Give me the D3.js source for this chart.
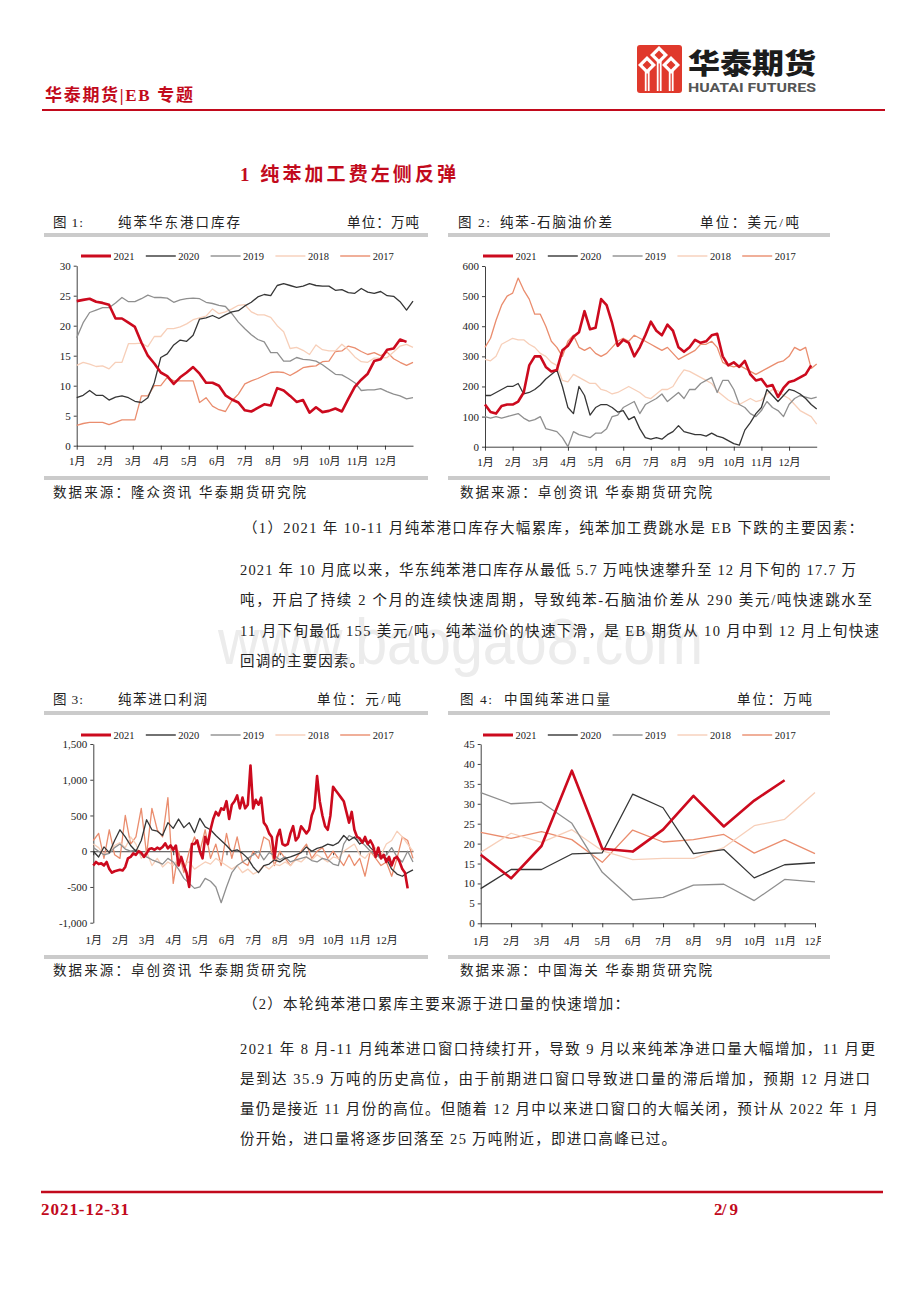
<!DOCTYPE html>
<html>
<head>
<meta charset="utf-8">
<script src="https://cdnjs.cloudflare.com/ajax/libs/d3/7.8.5/d3.min.js"></script>
<style>
  html, body { margin: 0; padding: 0; background: #fff; }
  svg { display: block; }
</style>
</head>
<body>
<svg id="page" width="920" height="1302"></svg>
<script>
// ---------------------------------------------------------------------------
// Data
// ---------------------------------------------------------------------------
const months = ['1月', '2月', '3月', '4月', '5月', '6月', '7月', '8月', '9月', '10月', '11月', '12月']
const years = ['2021', '2020', '2019', '2018', '2017']

// fig 1: East China benzene port stock, 10k t, weekly
const stock2021 = [24.1, 24.3, 24.5, 24.0, 23.8, 23.5, 21.2, 21.2, 20.5, 19.8, 17.2, 15.0, 13.7, 12.2, 11.6, 10.3, 11.4, 12.2, 13.1, 12.0, 10.5, 10.5, 10.0, 8.4, 7.7, 7.2, 5.9, 5.7, 6.3, 6.9, 6.7, 9.6, 9.2, 8.3, 7.3, 7.6, 5.5, 6.4, 5.6, 5.8, 6.2, 5.7, 7.8, 9.8, 11.0, 12.0, 14.1, 14.4, 16.0, 16.2, 17.7, 17.3]
const stock2020 = [8.0, 8.4, 9.2, 8.4, 8.4, 7.6, 8.1, 8.3, 8.0, 7.4, 7.2, 8.0, 10.5, 14.7, 15.3, 16.8, 17.6, 17.4, 18.4, 21.1, 21.3, 21.7, 21.2, 21.8, 22.3, 22.5, 23.3, 23.9, 24.8, 25.2, 25.0, 26.7, 27.0, 26.7, 26.4, 26.6, 27.0, 26.7, 26.6, 26.6, 25.9, 26.0, 25.5, 25.4, 26.2, 25.6, 25.4, 25.7, 25.0, 24.9, 24.0, 22.6, 24.1]
const stock2019 = [18.0, 20.5, 22.2, 22.6, 23.0, 23.0, 23.8, 24.7, 24.0, 24.0, 24.5, 25.1, 24.7, 24.7, 24.6, 23.9, 24.3, 24.5, 24.6, 24.5, 23.9, 23.7, 23.4, 23.2, 22.0, 20.6, 19.5, 18.5, 17.7, 17.3, 15.5, 15.5, 14.1, 14.1, 14.7, 14.4, 14.3, 14.1, 13.5, 12.7, 11.9, 11.8, 11.2, 10.5, 9.2, 9.3, 9.3, 9.5, 9.0, 8.6, 8.3, 7.8, 8.0]
const stock2018 = [13.4, 13.9, 13.6, 13.2, 13.3, 12.8, 13.9, 13.9, 17.0, 17.0, 17.1, 16.5, 18.2, 18.2, 19.5, 19.5, 19.8, 20.3, 21.0, 21.3, 21.6, 22.8, 22.0, 22.3, 22.8, 23.4, 23.5, 22.3, 21.8, 21.8, 21.4, 20.0, 19.0, 16.2, 16.4, 15.9, 15.2, 16.8, 16.0, 15.8, 15.8, 16.9, 16.0, 14.8, 14.0, 13.9, 14.6, 14.6, 14.7, 15.6, 16.6, 16.9, 16.4]
const stock2017 = [3.4, 3.7, 3.9, 3.9, 3.9, 3.5, 3.9, 4.3, 4.3, 4.3, 8.3, 8.3, 10.0, 10.0, 11.4, 10.8, 10.8, 10.8, 10.8, 7.2, 8.0, 6.6, 6.0, 5.7, 7.5, 8.6, 10.3, 10.8, 11.2, 11.7, 12.2, 12.3, 12.2, 11.7, 12.3, 13.0, 13.2, 13.3, 14.0, 14.1, 15.7, 15.8, 16.6, 16.3, 15.7, 15.2, 15.5, 15.0, 15.6, 14.5, 13.9, 13.4, 13.9]

// fig 2: benzene - naphtha spread, USD/t, sampled every 0.2 month
const spread2021 = [140, 115, 110, 135, 140, 140, 150, 180, 270, 300, 300, 265, 250, 255, 320, 335, 365, 380, 450, 390, 395, 490, 470, 410, 335, 355, 345, 300, 330, 370, 415, 385, 370, 405, 385, 330, 315, 330, 355, 345, 350, 370, 375, 300, 270, 280, 265, 285, 240, 220, 225, 200, 205, 165, 195, 215, 220, 230, 240, 270]
const spread2020 = [170, 170, 180, 190, 200, 200, 210, 175, 180, 190, 205, 225, 240, 255, 200, 130, 110, 200, 170, 105, 130, 140, 140, 130, 115, 120, 90, 100, 60, 30, 25, 30, 25, 40, 50, 70, 50, 45, 40, 40, 35, 45, 35, 30, 20, 10, 5, 55, 80, 110, 130, 190, 170, 150, 170, 190, 185, 175, 160, 140, 125]
const spread2019 = [100, 95, 100, 95, 100, 105, 110, 95, 85, 90, 100, 60, 55, 50, 30, 0, 50, 40, 35, 30, 45, 45, 60, 100, 105, 130, 140, 150, 110, 140, 150, 160, 175, 150, 165, 180, 160, 190, 190, 210, 220, 230, 180, 220, 220, 190, 140, 130, 110, 100, 120, 150, 130, 120, 100, 140, 160, 170, 165, 160, 165]
const spread2018 = [290, 285, 300, 340, 350, 360, 355, 355, 340, 330, 310, 300, 280, 270, 220, 215, 240, 230, 220, 210, 210, 190, 185, 175, 180, 190, 200, 190, 180, 165, 160, 175, 190, 190, 200, 230, 255, 250, 240, 230, 220, 210, 185, 170, 155, 145, 140, 150, 160, 150, 155, 175, 190, 185, 170, 160, 140, 120, 110, 100, 75]
const spread2017 = [330, 360, 420, 470, 500, 510, 560, 520, 490, 440, 440, 400, 350, 330, 300, 350, 370, 330, 320, 330, 310, 300, 310, 330, 350, 360, 350, 370, 360, 350, 340, 330, 320, 330, 310, 290, 300, 310, 320, 340, 340, 350, 330, 280, 270, 265, 270, 260, 250, 240, 250, 260, 270, 280, 285, 300, 330, 320, 330, 260, 275]

// fig 3: benzene import margin, CNY/t (2021 every 0.1 month, others every 0.2 month)
const profit2021 = [-200, -150, -180, -170, -200, -150, -250, -300, -280, -270, -260, -270, -220, -100, -80, -30, -50, 0, -20, -80, -30, 30, 40, 20, 50, 30, 60, 110, 40, 80, 20, 80, -200, -80, -200, -300, -500, 100, 100, 150, 0, -100, 200, 100, 300, 450, 550, 500, 600, 580, 700, 450, 650, 700, 780, 600, 750, 600, 650, 1200, 600, 720, 650, 750, 400, 350, 250, 200, -100, 200, 300, 100, 80, 100, 250, 350, 150, 200, 350, 300, 250, 300, 500, 600, 1050, 700, 500, 350, 300, 500, 900, 850, 800, 750, 700, 550, 400, 550, 300, 200, 180, 120, 200, 100, 150, 80, -80, 50, -100, -50, -150, -80, -200, -100, -80, -150, -250, -300, -520]
const profit2020 = [0, -80, 60, -20, 150, 300, 200, 80, 0, 150, 440, 300, 280, 220, 400, 320, 450, 330, 400, 260, 460, 340, 300, 220, 150, 80, 0, 20, -30, -100, -220, -300, -200, -180, -120, -150, -100, -80, -50, -20, 60, 0, 40, 60, 100, 80, 120, 220, 150, 200, 100, 150, 50, -20, -80, -100, -250, -320, -350, -300, -260]
const profit2019 = [50, 0, -50, -30, 50, 100, 30, 0, 20, -50, -80, -120, -150, -180, -100, -150, -250, -380, -450, -520, -500, -380, -420, -500, -720, -500, -300, -200, -150, -100, -50, 0, -120, -20, -60, -120, -80, -150, -120, -100, -80, -130, -150, -100, -120, -180, -200, 100, 220, 180, 150, 80, 0, -50, -100, -50, 50, -80, -150, 0, -150]
const profit2018 = [100, 50, -50, 0, 80, 120, 50, 200, 100, -100, 0, -200, -100, -220, -150, -200, -100, -180, -150, -250, -200, -150, -180, -100, -150, -200, -250, -200, -300, -250, -320, -280, -200, -250, -180, -200, -150, -200, -120, -150, -80, -120, -50, -100, -150, -80, -100, 0, 50, 100, -50, -100, 0, 50, -50, 100, 150, 280, 200, 100, 0]
const profit2017 = [150, 250, -100, 300, -50, -100, 500, 100, 200, 600, -50, 600, 300, 200, 750, -450, 0, -300, 0, 200, 0, 300, -100, 100, -200, 250, -100, 200, -150, -200, 0, -100, 200, 150, -200, 0, -100, -200, -100, 0, 100, -100, 0, 50, -100, 0, -100, -200, -50, -200, -100, -350, 0, -100, -200, -150, -350, -100, 200, 150, -100]

// fig 4: China benzene imports, 10k t, monthly
const import2021 = [17.2, 11.3, 19.4, 38.3, 18.7, 18.0, 23.5, 32.0, 24.3, 30.8, 35.9]
const import2020 = [8.7, 13.5, 13.5, 17.4, 17.7, 32.4, 29.0, 17.5, 18.5, 11.4, 14.7, 15.2]
const import2019 = [32.8, 30.0, 30.4, 25.1, 12.8, 5.9, 6.5, 9.6, 9.8, 5.7, 11.0, 10.4]
const import2018 = [17.8, 22.6, 20.3, 23.5, 18.2, 16.0, 16.3, 16.3, 19.0, 24.5, 26.1, 32.8]
const import2017 = [22.8, 21.3, 23.0, 21.0, 15.3, 23.4, 20.4, 21.0, 22.3, 17.6, 21.0, 17.5]

// ---------------------------------------------------------------------------
// Setup
// ---------------------------------------------------------------------------
const svg = d3.select('#page')
const SERIF = '"Liberation Serif", "Noto Sans CJK SC", serif'
const RED = '#c20a1c'
const yearStyle = {
  2021: { color: '#cc0a1e', width: 2.6 },
  2020: { color: '#363636', width: 1.3 },
  2019: { color: '#8f8f8f', width: 1.3 },
  2018: { color: '#f7cfb9', width: 1.3 },
  2017: { color: '#ea8d6e', width: 1.3 }
}

function label(g, s, x, y, o = {}) {
  let t = g.append('text')
    .attr('x', x)
    .attr('y', y)
    .attr('dominant-baseline', 'central')
    .attr('font-family', o.family || SERIF)
    .attr('font-size', o.size || 13.5)
    .attr('fill', o.fill || '#222')
    .text(s)
  if (o.weight) t.attr('font-weight', o.weight)
  if (o.len) t.attr('textLength', o.len).attr('lengthAdjust', 'spacing')
  return t
}

svg.append('rect').attr('width', 920).attr('height', 1302).attr('fill', '#fff')

////////////////////////////////////////////////////////////////////////////////
// Header
////////////////////////////////////////////////////////////////////////////////
label(svg, '华泰期货|EB 专题', 45, 95, { size: 17, fill: RED, weight: 'bold', len: 148 })
svg.append('line')
  .attr('x1', 42).attr('x2', 885).attr('y1', 110).attr('y2', 110)
  .attr('stroke', RED).attr('stroke-width', 2.2)

// logo
let logo = svg.append('g')
logo.append('rect')
  .attr('x', 637).attr('y', 45).attr('width', 45).attr('height', 48).attr('rx', 3)
  .attr('fill', '#e0392c')
let diamonds = [[659, 55], [647, 65], [671, 65]]
diamonds.forEach(([cx, cy]) => {
  logo.append('rect')
    .attr('x', cx - 2.2).attr('y', cy + 5).attr('width', 1.8).attr('height', 91 - cy - 5)
    .attr('fill', '#fff')
  logo.append('rect')
    .attr('x', cx + 0.8).attr('y', cy + 5).attr('width', 1.8).attr('height', 91 - cy - 5)
    .attr('fill', '#fff')
  logo.append('path')
    .attr('d', `M${cx},${cy - 9}L${cx + 9},${cy}L${cx},${cy + 9}L${cx - 9},${cy}Z`)
    .attr('fill', '#fff')
  logo.append('path')
    .attr('d', `M${cx},${cy - 4.5}L${cx + 4.5},${cy}L${cx},${cy + 4.5}L${cx - 4.5},${cy}Z`)
    .attr('fill', '#e0392c')
})
logo.append('text')
  .attr('x', 688).attr('y', 74)
  .attr('font-family', '"Noto Sans CJK SC", sans-serif').attr('font-weight', 900)
  .attr('font-size', 28).attr('fill', '#1c1c1c')
  .attr('textLength', 128).attr('lengthAdjust', 'spacingAndGlyphs')
  .text('华泰期货')
logo.append('text')
  .attr('x', 688).attr('y', 92)
  .attr('font-family', '"Liberation Sans Narrow", "Roboto", sans-serif').attr('font-weight', 'bold')
  .attr('font-size', 12.5).attr('fill', '#555')
  .attr('textLength', 128).attr('lengthAdjust', 'spacingAndGlyphs')
  .text('HUATAI FUTURES')

label(svg, '1  纯苯加工费左侧反弹', 240, 174, { size: 19, fill: RED, weight: 'bold', len: 216 })

////////////////////////////////////////////////////////////////////////////////
// Chart frames and captions
////////////////////////////////////////////////////////////////////////////////
function frame(x0, x1, yTop, yBot) {
  svg.append('rect').attr('x', x0).attr('y', yTop).attr('width', x1 - x0).attr('height', 4).attr('fill', '#cbcbcb')
  svg.append('rect').attr('x', x0).attr('y', yBot).attr('width', x1 - x0).attr('height', 4).attr('fill', '#cbcbcb')
}
frame(44, 428, 233, 476)
frame(448, 830, 233, 476)
frame(44, 428, 711, 955)
frame(448, 830, 711, 955)

label(svg, '图 1:', 53, 222, { len: 30 })
label(svg, '纯苯华东港口库存', 118, 222, { len: 122 })
label(svg, '单位：万吨', 347, 222, { len: 72 })
label(svg, '图 2:', 458, 222, { len: 32 })
label(svg, '纯苯-石脑油价差', 500, 222, { len: 112 })
label(svg, '单位：美元/吨', 700, 222, { len: 99 })
label(svg, '数据来源：隆众资讯 华泰期货研究院', 53, 492, { len: 253 })
label(svg, '数据来源：卓创资讯 华泰期货研究院', 460, 492, { len: 252 })

label(svg, '图 3:', 53, 699, { len: 30 })
label(svg, '纯苯进口利润', 118, 699, { len: 89 })
label(svg, '单位：元/吨', 317, 699, { len: 84 })
label(svg, '图 4:', 460, 699, { len: 32 })
label(svg, '中国纯苯进口量', 504, 699, { len: 106 })
label(svg, '单位：万吨', 737, 699, { len: 75 })
label(svg, '数据来源：卓创资讯 华泰期货研究院', 53, 970, { len: 253 })
label(svg, '数据来源：中国海关 华泰期货研究院', 460, 970, { len: 252 })

////////////////////////////////////////////////////////////////////////////////
// Line chart
////////////////////////////////////////////////////////////////////////////////
function lineChart(o) {
  let g = svg.append('g')
  if (o.clip) {
    svg.append('clipPath').attr('id', o.clip.id)
      .append('rect').attr('x', o.clip.x0).attr('y', o.top - 40)
      .attr('width', o.clip.x1 - o.clip.x0).attr('height', o.labelY - o.top + 60)
    g.attr('clip-path', `url(#${o.clip.id})`)
  }
  let x = d3.scaleLinear().domain(o.xDomain).range([o.left, o.right])
  let y = d3.scaleLinear().domain(o.yDomain).range([o.bottom, o.top])

  let yAxis = g.append('g')
    .attr('transform', `translate(${o.left},0)`)
    .call(d3.axisLeft(y).tickValues(o.yTicks).tickSize(3).tickSizeOuter(0).tickPadding(3).tickFormat(o.yFormat))
  yAxis.attr('font-family', SERIF).attr('font-size', 11)
  yAxis.selectAll('text').attr('fill', '#222')

  let axisY = y(o.xAxisAt)
  let xAxis = g.append('g')
    .attr('transform', `translate(0,${axisY})`)
    .call(d3.axisBottom(x).tickValues(o.xTicks).tickSize(4).tickSizeOuter(0).tickFormat((d, i) => months[i]))
  xAxis.attr('font-family', SERIF).attr('font-size', 11)
  xAxis.selectAll('text').attr('fill', '#222').attr('y', o.labelY - axisY).attr('dy', '0.35em')
  g.selectAll('.domain, .tick line').attr('stroke', '#111').attr('stroke-width', 0.8)

  // draw oldest first so 2021 sits on top
  o.series.slice().reverse().forEach(s => {
    let st = yearStyle[s.year]
    let line = d3.line()
      .x((d, i) => x(i * s.step))
      .y(d => y(d))
    g.append('path')
      .datum(s.values)
      .attr('fill', 'none')
      .attr('stroke', st.color)
      .attr('stroke-width', st.width)
      .attr('stroke-linejoin', 'round')
      .attr('d', line)
  })

  // legend
  years.forEach((yr, i) => {
    let lx = o.legendX + i * 64.8
    let st = yearStyle[yr]
    g.append('line')
      .attr('x1', lx).attr('x2', lx + 30).attr('y1', o.legendY).attr('y2', o.legendY)
      .attr('stroke', st.color).attr('stroke-width', yr === '2021' ? 3 : 1.4)
    label(g, yr, lx + 32.5, o.legendY, { size: 10.5 })
  })
}

const signed = d => (d < 0 ? '-' : '') + d3.format(',')(Math.abs(d))

lineChart({
  left: 76.7, right: 413, top: 265.7, bottom: 445.7,
  xDomain: [0, 52], xTicks: months.map((m, i) => i * 52 / 12),
  yDomain: [0, 30], yTicks: d3.range(0, 31, 5), yFormat: d3.format('d'),
  xAxisAt: 0, labelY: 461, legendY: 256, legendX: 81,
  series: [
    { year: '2021', values: stock2021, step: 1 },
    { year: '2020', values: stock2020, step: 1 },
    { year: '2019', values: stock2019, step: 1 },
    { year: '2018', values: stock2018, step: 1 },
    { year: '2017', values: stock2017, step: 1 }
  ]
})

lineChart({
  left: 485, right: 816.7, top: 266, bottom: 446.7,
  xDomain: [0, 12], xTicks: months.map((m, i) => i),
  yDomain: [0, 600], yTicks: d3.range(0, 601, 100), yFormat: d3.format('d'),
  xAxisAt: 0, labelY: 462, legendY: 256, legendX: 483,
  series: [
    { year: '2021', values: spread2021, step: 0.2 },
    { year: '2020', values: spread2020, step: 0.2 },
    { year: '2019', values: spread2019, step: 0.2 },
    { year: '2018', values: spread2018, step: 0.2 },
    { year: '2017', values: spread2017, step: 0.2 }
  ]
})

lineChart({
  left: 93.3, right: 413, top: 744, bottom: 922.7,
  xDomain: [0, 12], xTicks: months.map((m, i) => i),
  yDomain: [-1000, 1500], yTicks: d3.range(-1000, 1501, 500), yFormat: signed,
  xAxisAt: 0, labelY: 940, legendY: 735, legendX: 81,
  series: [
    { year: '2021', values: profit2021, step: 0.1 },
    { year: '2020', values: profit2020, step: 0.2 },
    { year: '2019', values: profit2019, step: 0.2 },
    { year: '2018', values: profit2018, step: 0.2 },
    { year: '2017', values: profit2017, step: 0.2 }
  ]
})

lineChart({
  left: 480.7, right: 815, top: 744, bottom: 923.3,
  xDomain: [0, 11], xTicks: months.map((m, i) => i),
  yDomain: [0, 45], yTicks: d3.range(0, 46, 5), yFormat: d3.format('d'),
  xAxisAt: 0, labelY: 941, legendY: 735, legendX: 483,
  clip: { id: 'clip4', x0: 448, x1: 821 },
  series: [
    { year: '2021', values: import2021, step: 1 },
    { year: '2020', values: import2020, step: 1 },
    { year: '2019', values: import2019, step: 1 },
    { year: '2018', values: import2018, step: 1 },
    { year: '2017', values: import2017, step: 1 }
  ]
})

////////////////////////////////////////////////////////////////////////////////
// Body text
////////////////////////////////////////////////////////////////////////////////
// faint site watermark sitting behind the first paragraph
svg.insert('text', 'g')
  .attr('x', 218).attr('y', 664)
  .attr('font-family', '"Liberation Sans", sans-serif')
  .attr('font-size', 64).attr('fill', '#ececec')
  .attr('textLength', 485).attr('lengthAdjust', 'spacingAndGlyphs')
  .text('www.baogao8.com')

const BODY = 14.5
label(svg, '（1）2021 年 10-11 月纯苯港口库存大幅累库，纯苯加工费跳水是 EB 下跌的主要因素：', 243, 528, { size: BODY, len: 620 })
label(svg, '2021 年 10 月底以来，华东纯苯港口库存从最低 5.7 万吨快速攀升至 12 月下旬的 17.7 万', 240, 570, { size: BODY, len: 616 })
label(svg, '吨，开启了持续 2 个月的连续快速周期，导致纯苯-石脑油价差从 290 美元/吨快速跳水至', 240, 600, { size: BODY, len: 632 })
label(svg, '11 月下旬最低 155 美元/吨，纯苯溢价的快速下滑，是 EB 期货从 10 月中到 12 月上旬快速', 240, 631, { size: BODY, len: 639 })
label(svg, '回调的主要因素。', 240, 661, { size: BODY, len: 124 })

label(svg, '（2）本轮纯苯港口累库主要来源于进口量的快速增加：', 243, 1004, { size: BODY, len: 386 })
label(svg, '2021 年 8 月-11 月纯苯进口窗口持续打开，导致 9 月以来纯苯净进口量大幅增加，11 月更', 240, 1049, { size: BODY, len: 635 })
label(svg, '是到达 35.9 万吨的历史高位，由于前期进口窗口导致进口量的滞后增加，预期 12 月进口', 240, 1079, { size: BODY, len: 630 })
label(svg, '量仍是接近 11 月份的高位。但随着 12 月中以来进口窗口的大幅关闭，预计从 2022 年 1 月', 240, 1109, { size: BODY, len: 638 })
label(svg, '份开始，进口量将逐步回落至 25 万吨附近，即进口高峰已过。', 240, 1139, { size: BODY, len: 436 })

////////////////////////////////////////////////////////////////////////////////
// Footer
////////////////////////////////////////////////////////////////////////////////
svg.append('line')
  .attr('x1', 41).attr('x2', 883).attr('y1', 1192).attr('y2', 1192)
  .attr('stroke', RED).attr('stroke-width', 2.4)
label(svg, '2021-12-31', 41, 1209, { size: 17, fill: RED, weight: 'bold', len: 88 })
label(svg, '2/ 9', 714, 1209, { size: 17, fill: RED, weight: 'bold', len: 24 })
</script>
</body>
</html>
